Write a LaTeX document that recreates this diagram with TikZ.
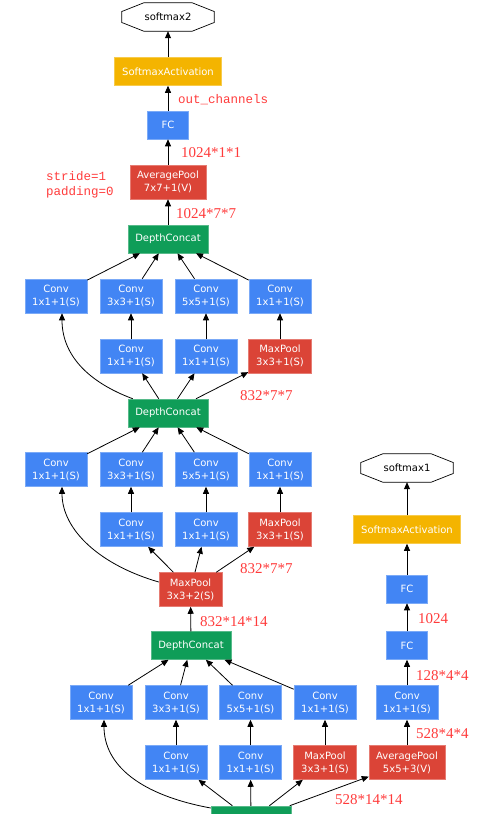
\documentclass[tikz,border=0pt]{standalone}
\usepackage{fontspec}
\setmainfont{DejaVu Sans}
\newfontfamily\labserif{Liberation Serif}
\newfontfamily\labmono{Liberation Mono}
\usetikzlibrary{arrows.meta,calc}
\definecolor{gblue}{HTML}{4285F4}
\definecolor{gred}{HTML}{DB4437}
\definecolor{ggreen}{HTML}{0F9D58}
\definecolor{gyellow}{HTML}{F4B400}
\definecolor{lred}{HTML}{FF3B3B}
\begin{document}
\begin{tikzpicture}[x=1pt,y=1pt,
  box/.style={rectangle, inner sep=0pt, text=white, font=\fontsize{10}{13}\selectfont, align=center, line width=0.5pt},
  conv/.style={box, fill=gblue, draw=gblue!70!white, minimum width=62pt, minimum height=34pt},
  fcbox/.style={box, fill=gblue, draw=gblue!70!white, minimum width=41pt, minimum height=28pt},
  pool/.style={box, fill=gred, draw=gred!70!white, minimum width=63pt, minimum height=34pt},
  apool/.style={box, fill=gred, draw=gred!70!white, minimum width=76pt, minimum height=34pt},
  concat/.style={box, fill=ggreen, draw=ggreen!70!white, minimum width=80pt, minimum height=28pt},
  sact/.style={box, fill=gyellow, draw=gyellow!70!white, minimum width=107pt, minimum height=28pt},
  oct/.style={rectangle, inner sep=0pt, font=\fontsize{10}{13}\selectfont, minimum width=92pt, minimum height=28pt},
  arr/.style={-{Triangle[length=7pt,width=6pt]}, line width=0.8pt, black},
  lab/.style={text=lred, font=\labserif\fontsize{15}{15}\selectfont, inner sep=0pt, anchor=base west},
  mlab/.style={text=lred, font=\labmono\fontsize{12.5}{15}\selectfont, inner sep=0pt, align=left},
]
\clip (0,0) rectangle (498,-814);

% ---- top branch ----
\node[oct] (s2) at (168,-17) {softmax2};
\draw[line width=0.7pt] ($(s2.north west)+(22,0)$) -- ($(s2.north east)+(-22,0)$) -- ($(s2.east)+(0,5.5)$) -- ($(s2.east)+(0,-5.5)$) -- ($(s2.south east)+(-22,0)$) -- ($(s2.south west)+(22,0)$) -- ($(s2.west)+(0,-5.5)$) -- ($(s2.west)+(0,5.5)$) -- cycle;
\node[sact] (sa2) at (168,-71.5) {SoftmaxActivation};
\node[fcbox] (fc2) at (168,-125) {FC};
\node[apool] (ap2) at (168,-182) {AveragePool\\7x7+1(V)};
\node[concat] (dcA) at (168,-239) {DepthConcat};

\node[conv] (a1) at (56,-296) {Conv\\1x1+1(S)};
\node[conv] (a2) at (131,-296) {Conv\\3x3+1(S)};
\node[conv] (a3) at (206,-296) {Conv\\5x5+1(S)};
\node[conv] (a4) at (280,-296) {Conv\\1x1+1(S)};
\node[conv] (a5) at (131,-356) {Conv\\1x1+1(S)};
\node[conv] (a6) at (206,-356) {Conv\\1x1+1(S)};
\node[pool] (a7) at (280,-356) {MaxPool\\3x3+1(S)};
\node[concat] (dcB) at (168,-413) {DepthConcat};

\node[conv] (b1) at (56,-469.5) {Conv\\1x1+1(S)};
\node[conv] (b2) at (131,-469.5) {Conv\\3x3+1(S)};
\node[conv] (b3) at (206,-469.5) {Conv\\5x5+1(S)};
\node[conv] (b4) at (280,-469.5) {Conv\\1x1+1(S)};
\node[conv] (b5) at (131,-529.5) {Conv\\1x1+1(S)};
\node[conv] (b6) at (206,-529.5) {Conv\\1x1+1(S)};
\node[pool] (b7) at (280,-529.5) {MaxPool\\3x3+1(S)};
\node[pool] (mpC) at (190.5,-589.5) {MaxPool\\3x3+2(S)};
\node[concat] (dcC) at (191,-645.5) {DepthConcat};

\node[conv] (c1) at (101,-702.5) {Conv\\1x1+1(S)};
\node[conv] (c2) at (176,-702.5) {Conv\\3x3+1(S)};
\node[conv] (c3) at (250.5,-702.5) {Conv\\5x5+1(S)};
\node[conv] (c4) at (325,-702.5) {Conv\\1x1+1(S)};
\node[conv] (c5) at (176,-762.5) {Conv\\1x1+1(S)};
\node[conv] (c6) at (250.5,-762.5) {Conv\\1x1+1(S)};
\node[pool] (c7) at (325,-762.5) {MaxPool\\3x3+1(S)};
\node[concat] (dcD) at (251,-820) {};

% ---- auxiliary branch ----
\node[apool] (apx) at (407,-762.5) {AveragePool\\5x5+3(V)};
\node[conv] (cvx) at (407,-702.5) {Conv\\1x1+1(S)};
\node[fcbox] (fcx) at (407,-645.5) {FC};
\node[fcbox] (fcy) at (407,-589) {FC};
\node[sact] (sax) at (407,-529.5) {SoftmaxActivation};
\node[oct] (s1) at (407,-468) {softmax1};
\draw[line width=0.7pt] ($(s1.north west)+(22,0)$) -- ($(s1.north east)+(-22,0)$) -- ($(s1.east)+(0,5.5)$) -- ($(s1.east)+(0,-5.5)$) -- ($(s1.south east)+(-22,0)$) -- ($(s1.south west)+(22,0)$) -- ($(s1.west)+(0,-5.5)$) -- ($(s1.west)+(0,5.5)$) -- cycle;

% ---- edges: top ----
\draw[arr] (sa2) -- (s2);
\draw[arr] (fc2) -- (sa2);
\draw[arr] (ap2) -- (fc2);
\draw[arr] (dcA) -- (ap2);
\foreach \n in {a1,a2,a3,a4} \draw[arr] (\n) -- (dcA);
\draw[arr] (a5) -- (a2);
\draw[arr] (a6) -- (a3);
\draw[arr] (a7) -- (a4);
\draw[arr] (dcB) -- (a5);
\draw[arr] (dcB) -- (a6);
\draw[arr] (dcB) -- (a7);
\draw[arr] ($(dcB.north west)+(5,0)$) .. controls (88,-382) and (62,-355) .. ($(a1.south)+(6,0)$);

% ---- edges: middle ----
\foreach \n in {b1,b2,b3,b4} \draw[arr] (\n) -- (dcB);
\draw[arr] (b5) -- (b2);
\draw[arr] (b6) -- (b3);
\draw[arr] (b7) -- (b4);
\draw[arr] (mpC) -- (b5);
\draw[arr] (mpC) -- (b6);
\draw[arr] (mpC) -- (b7);
\draw[arr] ($(mpC.west)+(0,7.5)$) .. controls (100,-565) and (62,-530) .. ($(b1.south)+(6,0)$);
\draw[arr] (dcC) -- (mpC);

% ---- edges: bottom ----
\foreach \n in {c1,c2,c3,c4} \draw[arr] (\n) -- (dcC);
\draw[arr] (c5) -- (c2);
\draw[arr] (c6) -- (c3);
\draw[arr] (c7) -- (c4);
\draw[arr] (dcD) -- (c5);
\draw[arr] (dcD) -- (c6);
\draw[arr] (dcD) -- (c7);
\draw[arr] (dcD) -- (apx);
\draw[arr] ($(dcD.west)+(0,12)$) .. controls (140,-795) and (104,-765) .. ($(c1.south)+(3,0)$);

% ---- edges: auxiliary ----
\draw[arr] (apx) -- (cvx);
\draw[arr] (cvx) -- (fcx);
\draw[arr] (fcx) -- (fcy);
\draw[arr] (fcy) -- (sax);
\draw[arr] (sax) -- (s1);

% ---- labels ----
\node[mlab, anchor=base west] (lout) at (178,-103.5) {out\_channels};
\node[lab] (l1) at (181,-157) {1024*1*1};
\node[mlab, anchor=north west] (lsp) at (46,-171) {stride=1\\padding=0};
\node[lab] (l2) at (176,-218) {1024*7*7};
\node[lab] (l3) at (240,-400) {832*7*7};
\node[lab] (l4) at (240,-573) {832*7*7};
\node[lab] (l5) at (200,-626) {832*14*14};
\node[lab] (l6) at (418,-623) {1024};
\node[lab] (l7) at (416,-680) {128*4*4};
\node[lab] (l8) at (416,-738) {528*4*4};
\node[lab] (l9) at (335,-804) {528*14*14};
\end{tikzpicture}
\end{document}
